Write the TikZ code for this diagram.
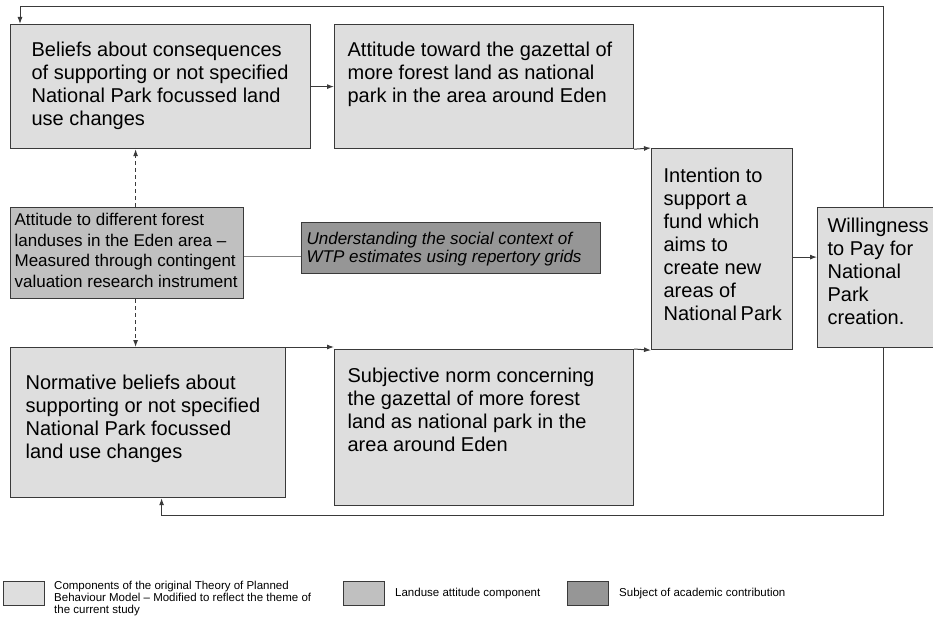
\documentclass[tikz,border=0pt]{standalone}
\usepackage{fontspec}
\setmainfont{Liberation Sans}
\usetikzlibrary{arrows.meta,positioning}
\definecolor{tpbfill}{HTML}{DEDEDE}
\definecolor{landfill}{HTML}{C0C0C0}
\definecolor{contribfill}{HTML}{969696}
\definecolor{edge}{HTML}{3A3A3A}
\newcommand{\boxtxt}[3]{\parbox[t][#2][t]{#1}{\strut#3}}
\tikzset{tpb/.style={draw=edge, fill=tpbfill, line width=1.2pt, anchor=north west, font=\fontsize{20}{23}\selectfont}, land/.style={tpb, fill=landfill, font=\fontsize{17}{20.7}\selectfont}, contrib/.style={tpb, fill=contribfill, font=\fontsize{17}{18}\selectfont\itshape}, arr/.style={-{Latex[length=7pt,width=5pt]}, line width=1pt, draw=edge}, dasharr/.style={arr, dash pattern=on 4pt off 3pt}, link/.style={line width=.8pt, draw=gray}, key/.style={draw=edge, line width=1pt, minimum width=41pt, minimum height=24pt, inner sep=0pt, anchor=north west}, keytext/.style={inner sep=0pt, align=left, font=\fontsize{11.5}{12}\selectfont}}

\begin{document}
\begin{tikzpicture}[x=1pt,y=-1pt]
\useasboundingbox (0,0) rectangle (933,617);
\node[tpb, inner xsep=21pt, inner ysep=16pt] (beliefs) at (10,24) {\boxtxt{258pt}{92pt}{Beliefs about consequences\\of supporting or not specified\\National Park focussed land\\use changes}};
\node[tpb, inner xsep=13pt, inner ysep=16pt] (attitude) at (334,24) {\boxtxt{273pt}{92pt}{Attitude toward the gazettal of\\more forest land as national\\park in the area around Eden}};
\node[tpb, inner xsep=12pt, inner ysep=18pt] (intention) at (651,148) {\boxtxt{117pt}{165pt}{Intention to\\support a\\fund which\\aims to\\create new\\areas of\\National~Park}};
\node[tpb, inner xsep=10pt, inner ysep=9pt] (wtp) at (817,207) {\boxtxt{95.5pt}{122pt}{Willingness\\to Pay for\\National\\Park\\creation.}};
\node[land, inner xsep=4pt, inner ysep=3.5pt] (landuse) at (10,207) {\boxtxt{225pt}{84pt}{Attitude to different forest\\landuses in the Eden area --\\Measured through contingent\\valuation research instrument}};
\node[contrib, inner xsep=5pt, inner ysep=9.4pt] (social) at (301,222) {\boxtxt{289pt}{32.2pt}{Understanding the social context of\\WTP estimates using repertory grids}};
\node[tpb, inner xsep=15pt, inner ysep=26pt] (normative) at (10,347) {\boxtxt{245pt}{98pt}{Normative beliefs about\\supporting or not specified\\National Park focussed\\land use changes}};
\node[tpb, inner xsep=13pt, inner ysep=17pt] (subjective) at (334,349) {\boxtxt{273pt}{122pt}{Subjective norm concerning\\the gazettal of more forest\\land as national park in the\\area around Eden}};
\coordinate (fbtop) at (0,7);
\coordinate (fbbot) at (0,515);
\draw[arr] (beliefs.east) -- (beliefs.east -| attitude.west);
\draw[arr] (attitude.south east) -- (intention.north west);
\draw[arr] (normative.north east) -- (normative.north east -| subjective.west);
\draw[arr] (subjective.north east) -- (intention.south west);
\draw[arr] ([yshift=-8pt]intention.east) -- ([yshift=-8pt]intention.east -| wtp.west);
\draw[dasharr] ([xshift=8.5pt]landuse.north) -- ([xshift=8.5pt]landuse.north |- beliefs.south);
\draw[dasharr] ([xshift=8.5pt]landuse.south) -- ([xshift=8.5pt]landuse.south |- normative.north);
\draw[link] ([yshift=-3pt]landuse.east) -- ([yshift=-3pt]landuse.east -| social.west);
\draw[arr] ([xshift=8pt]wtp.north) -- ([xshift=8pt]wtp.north |- fbtop) -| ([xshift=10pt]beliefs.north west);
\draw[arr] ([xshift=8pt]wtp.south) -- ([xshift=8pt]wtp.south |- fbbot) -| ([xshift=13.5pt]normative.south);
\node[key, fill=tpbfill] (keya) at (3,581) {};
\node[key, fill=landfill] (keyb) at (343,581) {};
\node[key, fill=contribfill] (keyc) at (567,581) {};
\node[keytext, right=9pt of keya, yshift=-5pt] (keyatext) {Components of the original Theory of Planned\\Behaviour Model -- Modified to reflect the theme of\\the current study};
\node[keytext, right=10pt of keyb] (keybtext) {Landuse attitude component};
\node[keytext, right=10pt of keyc] (keyctext) {Subject of academic contribution};
\end{tikzpicture}
\end{document}
